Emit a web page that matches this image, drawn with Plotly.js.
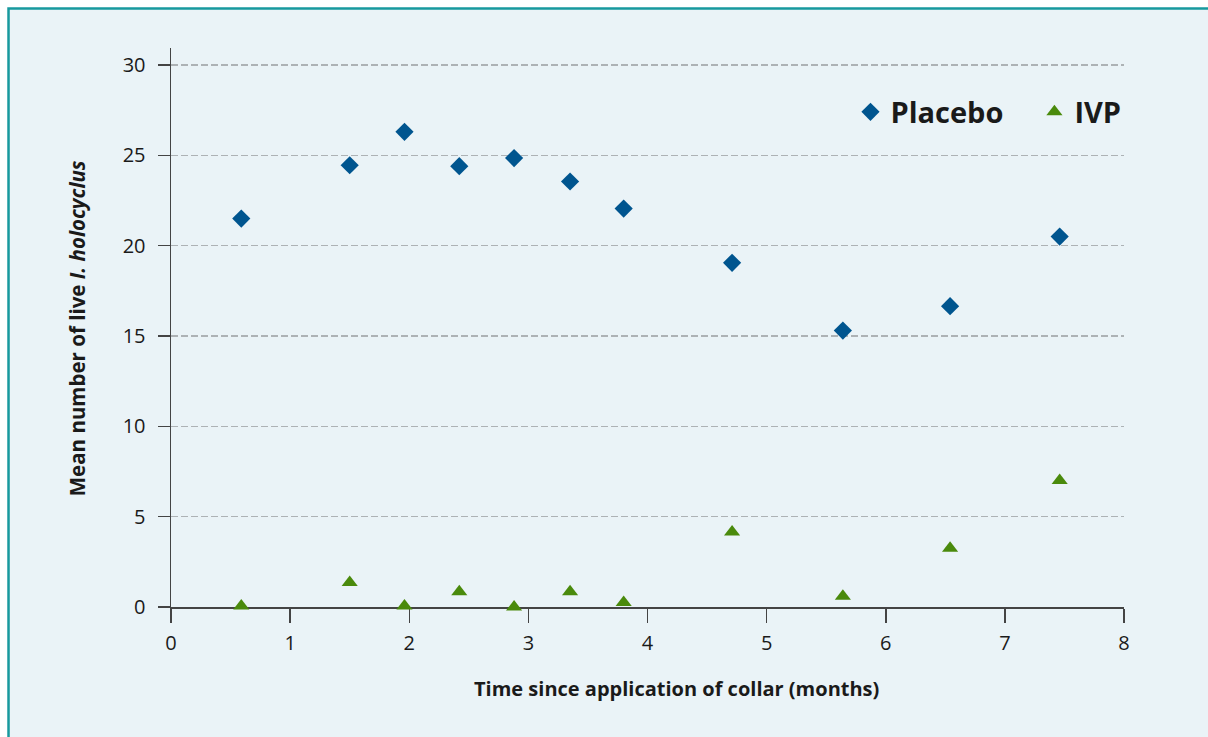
<!DOCTYPE html>
<html>
<head>
<meta charset="utf-8">
<script src="https://cdn.plot.ly/plotly-3.0.1.min.js"></script>
<style>html,body{margin:0;padding:0;background:#fff;}</style>
</head>
<body>
<div id="chart" style="width:1208px;height:737px;"></div>
<script>
// Data
const months  = [0.59, 1.5, 1.96, 2.42, 2.88, 3.35, 3.8, 4.71, 5.64, 6.54, 7.46];
const placebo = [21.5, 24.45, 26.3, 24.4, 24.85, 23.55, 22.05, 19.05, 15.3, 16.65, 20.5];
const ivp     = [0.05, 1.35, 0.05, 0.85, 0.0, 0.85, 0.25, 4.15, 0.6, 3.25, 7.0];
const seriesNames = ['Placebo', 'IVP'];
const xTitle = 'Time since application of collar (months)';
const yTitle = 'Mean number of live <i>I. holocyclus</i>';

const FONT = 'Open Sans, Noto Sans, DejaVu Sans, sans-serif';
const traces = [
  {type:'scatter', mode:'markers', name:seriesNames[0], x:months, y:placebo,
   marker:{symbol:'diamond', size:14, color:'#00558f'}, cliponaxis:false, legend:'legend'},
  {type:'scatter', mode:'markers', name:seriesNames[1], x:months, y:ivp,
   marker:{symbol:'triangle-up', size:14, color:'#4a8a0c'}, cliponaxis:false, legend:'legend2'}
];

const legendFont = {family:FONT, size:29, color:'#1a1a1a', weight:700};
const layout = {
  width:1208, height:737, autosize:false,
  margin:{l:171, r:84, t:48, b:130, pad:0},
  paper_bgcolor:'#ffffff', plot_bgcolor:'rgba(0,0,0,0)',
  font:{family:FONT, color:'#1a1a1a'},
  xaxis:{range:[0,8], tick0:0, dtick:1, showline:true, linecolor:'#444', linewidth:1.5,
         ticks:'outside', ticklen:14, tickwidth:1.5, tickcolor:'#444', layer:'below traces',
         showgrid:false, zeroline:false, tickfont:{family:FONT, size:20, color:'#1a1a1a'},
         ticklabelstandoff:3},
  yaxis:{range:[0,30.94], tick0:0, dtick:5, showline:true, linecolor:'#444', linewidth:1.5,
         ticks:'outside', ticklen:12, tickwidth:1.5, tickcolor:'#444', layer:'below traces',
         showgrid:true, gridcolor:'#adb2b5', gridwidth:1.5, griddash:'7px,3px',
         zeroline:false, tickfont:{family:FONT, size:20, color:'#1a1a1a'},
         ticklabelstandoff:8},
  showlegend:true,
  legend:{x:0.713, y:0.8855, xanchor:'left', yanchor:'middle', orientation:'h',
          font:legendFont, bgcolor:'rgba(0,0,0,0)', borderwidth:0},
  legend2:{x:0.906, y:0.8855, xanchor:'left', yanchor:'middle', orientation:'h',
          font:legendFont, bgcolor:'rgba(0,0,0,0)', borderwidth:0},
  shapes:[{type:'rect', xref:'paper', yref:'paper', layer:'below',
           x0:-0.1705, x1:1.0945, y0:-0.25, y1:1.0707,
           fillcolor:'#eaf3f7', line:{color:'#17999e', width:2.5}}],
  annotations:[
    {xref:'paper', yref:'paper', x:0.5308, y:-0.1455, xanchor:'center', yanchor:'middle',
     showarrow:false, text:'<b>'+xTitle+'</b>', font:{family:FONT, size:20, color:'#1a1a1a'}},
    {xref:'paper', yref:'paper', x:-0.0986, y:0.4988, xanchor:'center', yanchor:'middle',
     showarrow:false, textangle:-90, text:'<b>'+yTitle+'</b>', font:{family:FONT, size:20.5, color:'#1a1a1a'}}
  ]
};
Plotly.newPlot('chart', traces, layout, {displayModeBar:false, staticPlot:true});
</script>
</body>
</html>
